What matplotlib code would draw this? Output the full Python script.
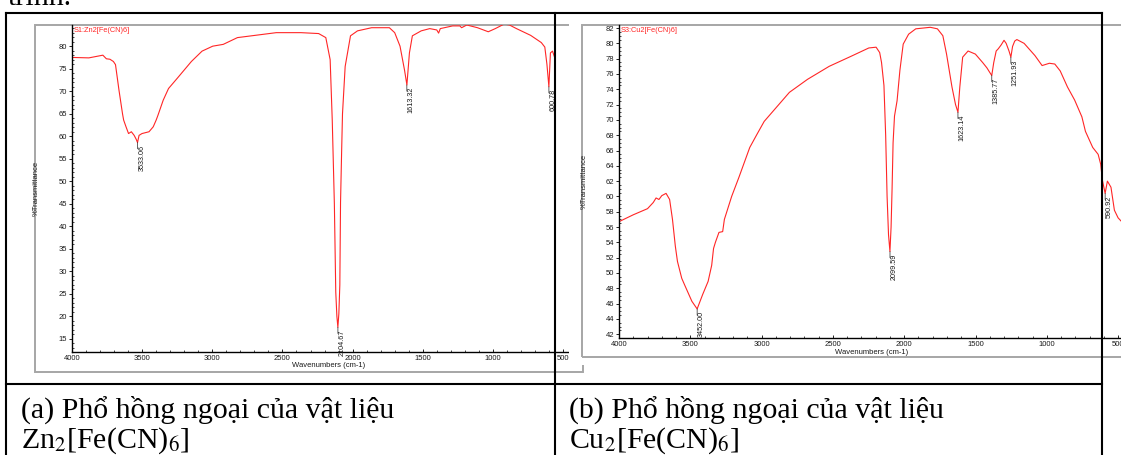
import matplotlib
matplotlib.use("Agg")
import matplotlib.pyplot as plt
from matplotlib.patches import Rectangle
from matplotlib.lines import Line2D
from matplotlib.ticker import MultipleLocator

# ---------------- data ----------------
zn_wn = [4000, 3880, 3780, 3755, 3730, 3705, 3690, 3665, 3640, 3632, 3615, 3597, 3577,
         3557, 3542, 3533, 3522, 3501, 3451, 3421, 3400, 3388, 3350, 3312, 3249, 3149,
         3073, 2997, 2922, 2821, 2695, 2544, 2368, 2242, 2191, 2160, 2145, 2130, 2120,
         2112, 2105, 2098, 2091, 2086, 2078, 2072, 2053, 2015, 1965, 1864, 1738, 1700,
         1662, 1630, 1613, 1595, 1574, 1511, 1450, 1400, 1387, 1375, 1287, 1236, 1223,
         1186, 1110, 1033, 983, 920, 882, 832, 731, 655, 630, 615, 601, 590, 575, 560]
zn_T = [77.5, 77.4, 78.0, 77.2, 77.1, 76.6, 75.9, 70.2, 65.0, 63.6, 62.1, 60.6, 61.0,
        60.2, 59.3, 58.6, 60.2, 60.6, 61.0, 62.1, 63.6, 64.6, 68.0, 70.6, 72.9, 76.6,
        78.9, 80.0, 80.4, 81.9, 82.4, 83.0, 83.0, 82.8, 81.9, 77.0, 63.5, 45.0, 25.4,
        20.0, 17.6, 20.6, 27.0, 45.3, 56.9, 65.0, 75.5, 82.3, 83.4, 84.1, 84.1, 83.0,
        80.0, 74.7, 71.4, 78.5, 82.3, 83.4, 83.9, 83.6, 82.9, 83.9, 84.5, 84.5, 84.1,
        84.7, 84.1, 83.2, 83.9, 84.9, 84.7, 83.9, 82.4, 80.8, 79.8, 76.0, 71.0, 78.5,
        78.9, 77.5]

cu_wn = [4000, 3900, 3800, 3760, 3740, 3720, 3700, 3670, 3645, 3625, 3605, 3590, 3560,
         3539, 3489, 3452, 3413, 3375, 3350, 3337, 3324, 3299, 3273, 3261, 3210, 3159,
         3083, 3033, 2982, 2805, 2678, 2526, 2374, 2248, 2197, 2172, 2159, 2142, 2130,
         2120, 2110, 2100, 2092, 2085, 2078, 2068, 2050, 2030, 2007, 1969, 1919, 1817,
         1767, 1729, 1703, 1665, 1640, 1623, 1610, 1590, 1552, 1501, 1450, 1420, 1400,
         1386, 1372, 1355, 1340, 1320, 1300, 1285, 1265, 1252, 1240, 1225, 1210, 1159,
         1083, 1033, 982, 944, 906, 855, 805, 754, 729, 678, 640, 622, 610, 591, 575,
         550, 526, 500, 480]
cu_T = [56.7, 57.6, 58.4, 59.2, 59.8, 59.6, 60.1, 60.4, 59.6, 57.0, 53.5, 51.5, 49.3,
        48.4, 46.3, 45.3, 47.2, 48.9, 51.0, 53.2, 54.0, 55.3, 55.4, 57.0, 60.0, 62.5,
        66.4, 68.1, 69.8, 73.6, 75.3, 77.0, 78.3, 79.4, 79.5, 78.8, 77.5, 74.5, 68.0,
        60.0, 55.0, 52.8, 56.0, 61.0, 67.0, 70.5, 72.5, 76.5, 79.9, 81.2, 81.9, 82.1,
        81.9, 81.0, 78.6, 74.3, 72.0, 71.0, 74.3, 78.2, 79.0, 78.6, 77.5, 76.8, 76.2,
        75.8, 77.5, 79.0, 79.3, 79.8, 80.4, 80.0, 79.0, 78.2, 79.6, 80.3, 80.5, 80.0,
        78.4, 77.1, 77.4, 77.3, 76.4, 74.3, 72.6, 70.4, 68.5, 66.4, 65.5, 64.2, 62.1,
        60.4, 62.0, 61.2, 58.2, 57.2, 56.8]

zn_peak_wn = [3533.06, 2104.67, 1613.32, 600.78]
zn_peak_T = [58.6, 17.6, 71.4, 71.0]
zn_peak_lbl = ["3533.06", "2104.67", "1613.32", "600.78"]

cu_peak_wn = [3452.00, 2099.59, 1623.14, 1385.77, 1251.93, 590.92]
cu_peak_T = [45.3, 52.8, 71.0, 75.8, 78.2, 60.4]
cu_peak_lbl = ["3452.00", "2099.59", "1623.14", "1385.77", "1251.93", "590.92"]

zn_yticks = [15, 20, 25, 30, 35, 40, 45, 50, 55, 60, 65, 70, 75, 80]
cu_yticks = list(range(42, 83, 2))
x_ticks = [4000, 3500, 3000, 2500, 2000, 1500, 1000, 500]

# ---------------- layout helpers ----------------
W, H = 1121, 455
fig = plt.figure(figsize=(W / 100, H / 100), dpi=100)
fig.patch.set_facecolor("white")


def fx(x):
    return x / W


def fy(y):
    return 1 - y / H


def add_ax(x0, y0, x1, y1, z):
    ax = fig.add_axes([fx(x0), fy(y1), (x1 - x0) / W, (y1 - y0) / H], zorder=z)
    ax.set_facecolor("none")
    return ax


SANS = "Liberation Sans"
RED = "#ff2626"

# frames (gray image borders)
fig.patches.append(Rectangle((fx(35), fy(372)), fx(583) - fx(35), fy(25) - fy(372),
                             transform=fig.transFigure, fill=False, ec="#a6a6a6",
                             lw=1.4, zorder=-1))
# white background of the right image, covering the left one
fig.patches.append(Rectangle((fx(569), fy(365)), fx(1121) - fx(569), fy(15) - fy(365),
                             transform=fig.transFigure, fc="white", ec="none", zorder=1))
fig.patches.append(Rectangle((fx(582), fy(357)), fx(1125) - fx(582), fy(25) - fy(357),
                             transform=fig.transFigure, fill=False, ec="#a6a6a6",
                             lw=1.4, zorder=1.5))


def style_axes(ax, yticks, yminor, title, peaks_wn, peaks_T, peaks_lbl):
    for s in ["top", "right"]:
        ax.spines[s].set_visible(False)
    ax.spines["left"].set_linewidth(1.0)
    ax.spines["bottom"].set_linewidth(1.0)
    ax.set_xticks(x_ticks)
    ax.set_xticklabels([str(t) for t in x_ticks])
    ax.set_yticks(yticks)
    ax.xaxis.set_minor_locator(MultipleLocator(100))
    ax.yaxis.set_minor_locator(MultipleLocator(yminor))
    ax.tick_params(axis="x", which="major", direction="in", length=2.5, width=0.6,
                   labelsize=5.5, pad=2)
    ax.tick_params(axis="x", which="minor", direction="in", length=1.5, width=0.5)
    ax.tick_params(axis="y", which="major", direction="out", length=2.5, width=0.6,
                   labelsize=5.5, pad=1)
    ax.tick_params(axis="y", which="minor", direction="in", length=1.5, width=0.5)
    for lab in ax.get_xticklabels() + ax.get_yticklabels():
        lab.set_fontfamily(SANS)
        lab.set_color("#1a1a1a")
    ax.set_xlabel("Wavenumbers (cm-1)", fontsize=5.5, family=SANS, color="#1a1a1a")
    ax.set_ylabel("%Transmittance", fontsize=5.5, family=SANS, color="#1a1a1a")
    ax.text(0.004, 0.995, title, transform=ax.transAxes, ha="left", va="top",
            fontsize=5.3, family=SANS, color=RED)
    for w, t, l in zip(peaks_wn, peaks_T, peaks_lbl):
        ax.annotate("", xy=(w, t), xytext=(0, -4.5), textcoords="offset points",
                    arrowprops=dict(arrowstyle="-", color="#222222", lw=0.5,
                                    shrinkA=0, shrinkB=0))
        ax.annotate(l, xy=(w, t), xytext=(0.6, -1.5), textcoords="offset points",
                    rotation=90, ha="left", va="top", fontsize=5.2, family=SANS,
                    color="#1a1a1a")


# left axes (Zn)
axL = add_ax(72, 25, 569, 352, 0)
axL.plot(zn_wn, zn_T, color=RED, lw=0.8)
axL.set_xlim(4000, 4000 - 497 / 0.1403)
axL.set_ylim(12.1, 84.7)
style_axes(axL, zn_yticks, 1, "S1:Zn2[Fe(CN)6]", zn_peak_wn, zn_peak_T, zn_peak_lbl)
axL.xaxis.set_label_coords((329 - 72) / 497, (352 - 362) / 327)
axL.yaxis.set_label_coords((40 - 72) / 497, 0.5)

# right axes (Cu)
axR = add_ax(619, 25, 1121, 338, 2)
axR.plot(cu_wn, cu_T, color=RED, lw=0.8)
axR.set_xlim(4000, 4000 - 502 / 0.1426)
axR.set_ylim(41.5, 82.4)
style_axes(axR, cu_yticks, 0.5, "S3:Cu2[Fe(CN)6]", cu_peak_wn, cu_peak_T, cu_peak_lbl)
axR.xaxis.set_label_coords((872 - 619) / 502, (338 - 349) / 313)
axR.yaxis.set_label_coords((588 - 619) / 502, 0.5)

# table lines
lw_tab = 1.5
for (x0, y0, x1, y1) in [(6, 13, 1102, 13), (6, 384, 1102, 384), (6, 13, 6, 460),
                         (555, 13, 555, 460), (1102, 13, 1102, 460)]:
    fig.lines.append(Line2D([fx(x0), fx(x1)], [fy(y0), fy(y1)], transform=fig.transFigure,
                            color="black", lw=lw_tab, zorder=10, solid_capstyle="projecting"))

# document texts
plt.rcParams["mathtext.fontset"] = "stix"
SERIF = "Liberation Serif"
FS = 21.5
fig.text(fx(8), fy(5), "trình.", fontsize=FS, family=SERIF, va="baseline", ha="left",
         zorder=11)
fig.text(fx(21), fy(418), "(a) Phổ hồng ngoại của vật liệu", fontsize=FS, family=SERIF,
         va="baseline", ha="left", zorder=11)
fig.text(fx(21), fy(448), r"Zn$_2$[Fe(CN)$_6$]", fontsize=FS, family=SERIF,
         va="baseline", ha="left", zorder=11)
fig.text(fx(569), fy(418), "(b) Phổ hồng ngoại của vật liệu", fontsize=FS, family=SERIF,
         va="baseline", ha="left", zorder=11)
fig.text(fx(569), fy(448), r"Cu$_2$[Fe(CN)$_6$]", fontsize=FS, family=SERIF,
         va="baseline", ha="left", zorder=11)

fig.savefig("out.png", dpi=100, facecolor="white")
